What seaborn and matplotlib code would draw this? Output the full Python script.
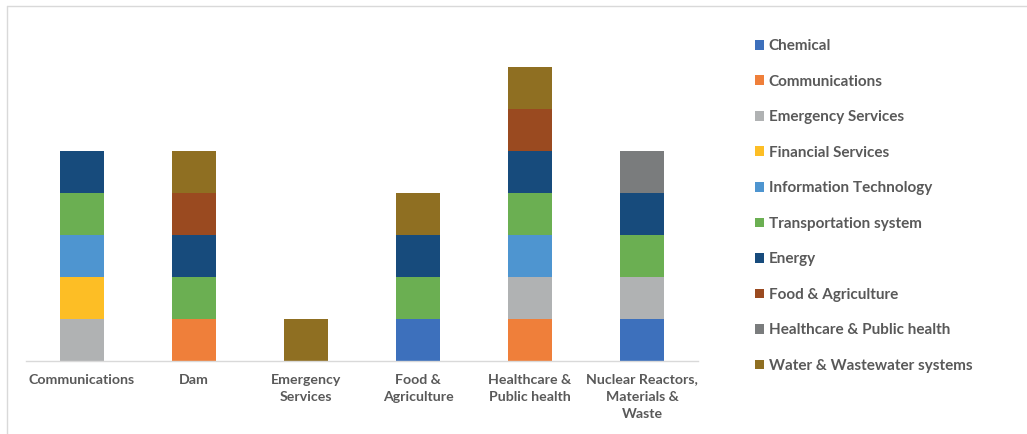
import matplotlib
matplotlib.use("Agg")
import matplotlib.pyplot as plt
from matplotlib.patches import Patch
from matplotlib.lines import Line2D
import seaborn as sns
import pandas as pd

categories = ["Communications", "Dam", "Emergency Services", "Food & Agriculture",
              "Healthcare & Public health", "Nuclear Reactors, Materials & Waste"]
tick_labels = ["Communications", "Dam", "Emergency\nServices", "Food &\nAgriculture",
               "Healthcare &\nPublic health", "Nuclear Reactors,\nMaterials &\nWaste"]
sectors = ["Chemical", "Communications", "Emergency Services", "Financial Services",
           "Information Technology", "Transportation system", "Energy",
           "Food & Agriculture", "Healthcare & Public health", "Water & Wastewater systems"]
colors = ["#3D70BC", "#EF7F3A", "#B0B2B3", "#FDBE25", "#4E95D0", "#6BAF52",
          "#174B7C", "#9A4A20", "#7A7C7D", "#8F6F22"]

# values per sector, in category order
chemical       = [0, 0, 0, 1, 0, 1]
communications = [0, 1, 0, 0, 1, 0]
emergency      = [1, 0, 0, 0, 1, 1]
financial      = [1, 0, 0, 0, 0, 0]
info_tech      = [1, 0, 0, 0, 1, 0]
transportation = [1, 1, 0, 1, 1, 1]
energy         = [1, 1, 0, 1, 1, 1]
food_agri      = [0, 1, 0, 0, 1, 0]
healthcare     = [0, 0, 0, 0, 0, 1]
water          = [0, 1, 1, 1, 1, 0]

series = [chemical, communications, emergency, financial, info_tech,
          transportation, energy, food_agri, healthcare, water]

rows = []
for ci, cat in enumerate(categories):
    for s, vals in zip(sectors, series):
        rows.append({"category": cat, "sector": s, "value": vals[ci]})
df = pd.DataFrame(rows)

sns.set_style("white")
plt.rcParams["font.family"] = ["Lato", "DejaVu Sans"]

fig = plt.figure(figsize=(10.27, 4.34), dpi=100)
ax = fig.add_axes([26 / 1027, (434 - 361) / 434, (698 - 26) / 1027, 336 / 434])

palette = dict(zip(sectors, colors))
sns.histplot(data=df, x="category", weights="value", hue="sector",
             hue_order=sectors[::-1], multiple="stack", discrete=True,
             shrink=0.39, palette=palette, alpha=1, linewidth=0,
             legend=False, ax=ax)

ax.set_xlim(-0.5, 5.5)
ax.set_ylim(0, 8)
ax.set_xticks(range(len(categories)))
ax.set_xticklabels(tick_labels, fontsize=10.2, fontweight="bold", color="#595959",
                   linespacing=1.55, va="top")
ax.tick_params(axis="x", length=0, pad=9)
ax.set_yticks([])
ax.set_xlabel("")
ax.set_ylabel("")
for side in ["top", "right", "left"]:
    ax.spines[side].set_visible(False)
ax.spines["bottom"].set_color("#d9d9d9")
ax.spines["bottom"].set_linewidth(1.0)

handles = [Patch(facecolor=c, edgecolor="none") for c in colors]
fig.legend(handles, sectors, loc="upper left",
           bbox_to_anchor=(749 / 1027, 1 - 33 / 434), frameon=False,
           prop={"family": ["Lato", "DejaVu Sans"], "weight": "bold", "size": 11.0},
           labelcolor="#595959", handlelength=0.6, handleheight=0.6,
           handletextpad=0.3, labelspacing=1.41, borderaxespad=0)

# outer chart frame
fig.add_artist(Line2D([7 / 1027, 1.0], [1 - 6 / 434, 1 - 6 / 434],
                      transform=fig.transFigure, color="#d9d9d9", lw=1))
fig.add_artist(Line2D([7 / 1027, 7 / 1027], [0, 1 - 6 / 434],
                      transform=fig.transFigure, color="#d9d9d9", lw=1))

fig.savefig("out.png", dpi=100)
